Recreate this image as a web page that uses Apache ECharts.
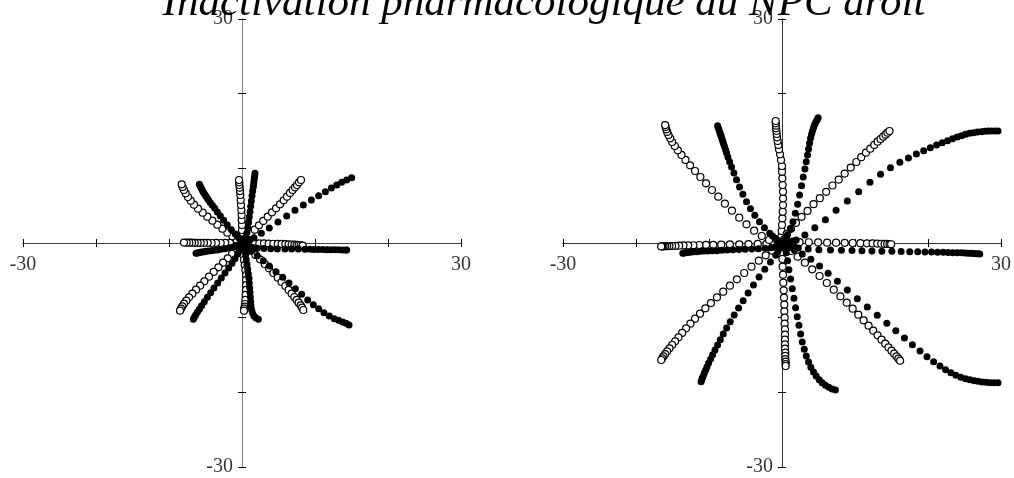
<!DOCTYPE html>
<html><head><meta charset="utf-8">
<script src="https://cdn.jsdelivr.net/npm/echarts@6/dist/echarts.min.js"></script>
<style>html,body{margin:0;padding:0;background:#fff}#c{width:1014px;height:478px}</style>
</head><body><div id="c"></div><script>
const titleText = 'Inactivation pharmacologique du NPC droit';
const axisMin = -30, axisMax = 30, axisStep = 10;
const xTickLabels = [-30, 30];
const yTickLabels = [30, -30];

// ---- Left panel, open circles (trajectories from centre to end) ----
const L_open_up = [[0,0.18],[0.05,0.54],[0.05,1.07],[0,1.74],[0,2.41],[-0.05,3.08],[-0.05,3.75],[-0.09,4.42],[-0.14,5.09],[-0.18,5.76],[-0.23,6.43],[-0.27,6.96],[-0.32,7.41],[-0.37,7.77],[-0.37,8.13],[-0.41,8.44]];
const L_open_upright = [[0.27,0.27],[0.68,0.71],[1.19,1.25],[1.74,1.79],[2.33,2.37],[2.92,2.95],[3.52,3.53],[4.11,4.11],[4.66,4.64],[5.21,5.18],[5.71,5.71],[6.16,6.21],[6.58,6.70],[6.94,7.10],[7.26,7.46],[7.53,7.77],[7.81,8.13],[8.08,8.44]];
const L_open_right = [[0.55,0],[1.10,0.02],[1.74,-0.02],[2.37,-0.04],[3.01,-0.05],[3.65,-0.08],[4.29,-0.1],[4.89,-0.12],[5.43,-0.13],[5.94,-0.16],[6.39,-0.18],[6.80,-0.2],[7.17,-0.21],[7.49,-0.25],[7.76,-0.27],[8.04,-0.3],[8.31,-0.35]];
const L_open_downright = [[0.64,-0.49],[1.23,-1.03],[1.83,-1.61],[2.47,-2.19],[3.11,-2.81],[3.70,-3.39],[4.29,-4.02],[4.89,-4.64],[5.43,-5.22],[5.94,-5.76],[6.39,-6.29],[6.80,-6.79],[7.17,-7.23],[7.49,-7.63],[7.76,-7.99],[8.04,-8.35],[8.22,-8.66],[8.40,-8.97]];
const L_open_down = [[0.05,-0.2],[0.09,-0.94],[0.18,-1.61],[0.27,-2.28],[0.37,-2.95],[0.46,-3.62],[0.55,-4.29],[0.55,-4.96],[0.55,-5.63],[0.55,-6.29],[0.5,-6.96],[0.46,-7.63],[0.41,-8.17],[0.37,-8.53],[0.32,-8.79],[0.27,-9.06]];
const L_open_downleft = [[-0.37,-0.40],[-0.82,-0.94],[-1.37,-1.47],[-1.96,-2.05],[-2.60,-2.63],[-3.24,-3.26],[-3.88,-3.88],[-4.52,-4.51],[-5.16,-5.13],[-5.75,-5.71],[-6.30,-6.25],[-6.80,-6.79],[-7.26,-7.28],[-7.63,-7.72],[-7.95,-8.13],[-8.17,-8.48],[-8.36,-8.79],[-8.49,-9.06]];
const L_open_left = [[-0.46,0],[-1.00,0.02],[-1.64,0],[-2.28,0.02],[-2.92,0],[-3.56,0.02],[-4.16,0],[-4.70,0.02],[-5.21,0.03],[-5.66,0.02],[-6.07,0.03],[-6.48,0.03],[-6.85,0.04],[-7.21,0.04],[-7.58,0.05],[-7.95,0.06]];
const L_open_upleft = [[-0.27,0.18],[-0.73,0.45],[-1.32,0.89],[-2.01,1.38],[-2.69,1.92],[-3.38,2.46],[-4.06,2.99],[-4.75,3.53],[-5.39,4.06],[-6.03,4.60],[-6.58,5.13],[-7.03,5.67],[-7.40,6.16],[-7.72,6.65],[-7.95,7.10],[-8.13,7.50],[-8.26,7.86]];

// ---- Left panel, filled circles ----
const L_fill_up = [[0.1,0.1],[0.18,0.22],[0.27,0.36],[0.38,0.58],[0.50,0.80],[0.68,1.38],[0.82,2.05],[0.91,2.77],[1.00,3.48],[1.10,4.20],[1.19,4.91],[1.28,5.63],[1.37,6.34],[1.46,6.96],[1.55,7.50],[1.60,7.90],[1.64,8.30],[1.69,8.66],[1.74,9.02],[1.78,9.33]];
const L_fill_upright = [[0.1,0.05],[0.2,0.1],[0.45,0.18],[0.73,0.27],[1.15,0.48],[1.64,0.71],[2.65,1.29],[3.74,2.01],[4.93,2.81],[6.12,3.62],[7.26,4.38],[8.40,5.09],[9.50,5.76],[10.50,6.34],[11.42,6.88],[12.24,7.37],[12.97,7.77],[13.65,8.13],[14.34,8.44],[15.02,8.75]];
const L_fill_right = [[0.15,-0.1],[0.3,-0.2],[0.5,-0.3],[0.85,-0.44],[1.2,-0.55],[1.62,-0.64],[2.10,-0.71],[3.01,-0.75],[3.93,-0.78],[4.84,-0.8],[5.89,-0.8],[6.80,-0.82],[7.72,-0.82],[8.63,-0.84],[9.32,-0.85],[9.86,-0.86],[10.46,-0.87],[11.05,-0.88],[11.60,-0.89],[12.15,-0.9],[12.69,-0.91],[13.24,-0.92],[13.79,-0.93],[14.25,-0.94],[14.34,-0.95]];
const L_fill_downright = [[0.1,-0.08],[0.2,-0.15],[0.4,-0.3],[0.64,-0.49],[0.95,-0.76],[1.32,-1.07],[2.10,-1.70],[2.92,-2.37],[3.74,-3.08],[4.66,-3.84],[5.57,-4.60],[6.44,-5.36],[7.31,-6.12],[8.17,-6.88],[9.00,-7.63],[9.77,-8.26],[10.50,-8.79],[11.23,-9.33],[11.96,-9.78],[12.65,-10.13],[13.24,-10.36],[13.79,-10.58],[14.25,-10.76],[14.66,-10.98]];
const L_fill_down = [[0.05,-0.05],[0.1,-0.1],[0.16,-0.24],[0.23,-0.40],[0.3,-0.68],[0.37,-0.98],[0.50,-1.61],[0.59,-2.23],[0.68,-2.86],[0.78,-3.48],[0.87,-4.11],[0.96,-4.73],[1.00,-5.36],[1.05,-5.98],[1.10,-6.61],[1.14,-7.23],[1.19,-7.86],[1.23,-8.44],[1.32,-8.97],[1.46,-9.42],[1.64,-9.78],[1.92,-10.04],[2.24,-10.22]];
const L_fill_downleft = [[-0.03,-0.12],[-0.09,-0.31],[-0.17,-0.56],[-0.27,-0.85],[-0.42,-1.15],[-0.59,-1.47],[-0.96,-2.10],[-1.37,-2.72],[-1.83,-3.35],[-2.33,-4.02],[-2.83,-4.69],[-3.33,-5.36],[-3.84,-6.03],[-4.29,-6.65],[-4.75,-7.28],[-5.16,-7.86],[-5.53,-8.39],[-5.84,-8.88],[-6.12,-9.29],[-6.35,-9.64],[-6.53,-9.96],[-6.67,-10.22]];
const L_fill_left = [[-0.06,-0.05],[-0.18,-0.13],[-0.36,-0.22],[-0.59,-0.31],[-0.85,-0.41],[-1.14,-0.49],[-1.74,-0.63],[-2.33,-0.76],[-2.88,-0.85],[-3.38,-0.94],[-3.84,-0.98],[-4.25,-1.03],[-4.61,-1.07],[-4.93,-1.12],[-5.21,-1.16],[-5.48,-1.21],[-5.71,-1.25],[-5.94,-1.29],[-6.12,-1.34],[-6.30,-1.38]];
const L_fill_upleft = [[-0.02,0.1],[-0.05,0.27],[-0.2,0.46],[-0.41,0.67],[-0.65,0.93],[-0.91,1.21],[-1.46,1.79],[-2.01,2.41],[-2.51,3.04],[-2.97,3.62],[-3.38,4.15],[-3.74,4.64],[-4.06,5.04],[-4.34,5.40],[-4.57,5.71],[-4.75,5.98],[-4.93,6.25],[-5.11,6.52],[-5.30,6.79],[-5.43,7.05],[-5.57,7.32],[-5.71,7.59],[-5.84,7.86]];

// ---- Right panel, open circles ----
const R_open_up = [[-0.05,0.3],[-0.09,0.85],[-0.05,1.61],[0,2.41],[0.05,3.30],[0.09,4.20],[0.14,5.09],[0.14,5.98],[0.14,6.88],[0.09,7.77],[0.05,8.66],[0,9.55],[0,10.31],[-0.14,11.12],[-0.27,11.88],[-0.41,12.54],[-0.50,13.13],[-0.59,13.66],[-0.68,14.15],[-0.73,14.60],[-0.77,15.0],[-0.82,15.36],[-0.82,15.71],[-0.86,16.03],[-0.86,16.34]];
const R_open_upright = [[0.3,0.5],[0.64,1.2],[1.23,1.9],[1.91,2.7],[2.68,3.5],[3.50,4.3],[4.32,5.2],[5.18,6.0],[6.05,6.85],[6.91,7.7],[7.77,8.5],[8.59,9.3],[9.41,10.1],[10.18,10.85],[10.86,11.5],[11.50,12.1],[12.09,12.63],[12.64,13.13],[13.09,13.57],[13.50,13.93],[13.86,14.24],[14.18,14.51],[14.45,14.78],[14.73,15.0]];
const R_open_right = [[0.5,0.1],[1.4,0.12],[2.41,0.11],[3.68,0.1],[4.95,0.08],[6.18,0.05],[7.41,0.04],[8.59,0.02],[9.68,0],[10.73,-0.02],[11.64,-0.05],[12.41,-0.06],[13.05,-0.08],[13.59,-0.1],[14.05,-0.12],[14.41,-0.13],[14.73,-0.15],[14.95,-0.17]];
const R_open_downright = [[0.4,-0.4],[1.23,-1.07],[2.14,-1.83],[3.14,-2.63],[4.14,-3.53],[5.14,-4.42],[6.14,-5.36],[7.09,-6.25],[8.0,-7.14],[8.86,-7.99],[9.68,-8.79],[10.45,-9.60],[11.18,-10.36],[11.86,-11.07],[12.5,-11.74],[13.09,-12.37],[13.64,-12.95],[14.14,-13.48],[14.59,-13.97],[15.0,-14.42],[15.36,-14.82],[15.68,-15.18],[15.95,-15.49],[16.18,-15.76]];
const R_open_down = [[0,-0.4],[0,-1.21],[0.05,-2.14],[0.09,-3.17],[0.14,-4.24],[0.18,-5.31],[0.23,-6.34],[0.27,-7.32],[0.32,-8.26],[0.32,-9.15],[0.36,-10.0],[0.36,-10.80],[0.41,-11.56],[0.41,-12.28],[0.41,-12.95],[0.41,-13.57],[0.41,-14.15],[0.45,-14.69],[0.45,-15.13],[0.45,-15.54],[0.5,-15.89],[0.5,-16.21],[0.5,-16.47]];
const R_open_downleft = [[-0.5,-0.4],[-1.36,-1.03],[-2.23,-1.65],[-3.18,-2.37],[-4.18,-3.17],[-5.18,-4.02],[-6.18,-4.87],[-7.14,-5.71],[-8.05,-6.52],[-8.91,-7.28],[-9.73,-8.04],[-10.5,-8.75],[-11.23,-9.46],[-11.91,-10.13],[-12.55,-10.80],[-13.14,-11.43],[-13.68,-12.05],[-14.18,-12.63],[-14.64,-13.17],[-15.05,-13.66],[-15.41,-14.11],[-15.73,-14.51],[-16.0,-14.87],[-16.23,-15.18],[-16.41,-15.45],[-16.55,-15.67]];
const R_open_left = [[-0.4,-0.05],[-1.09,-0.1],[-2.14,-0.12],[-3.32,-0.13],[-4.59,-0.16],[-5.86,-0.18],[-7.14,-0.19],[-8.32,-0.22],[-9.41,-0.24],[-10.41,-0.26],[-11.32,-0.27],[-12.14,-0.3],[-12.86,-0.32],[-13.5,-0.33],[-14.09,-0.36],[-14.59,-0.38],[-15.05,-0.4],[-15.41,-0.41],[-15.73,-0.42],[-16.0,-0.43],[-16.23,-0.44],[-16.41,-0.45],[-16.55,-0.46]];
const R_open_upleft = [[-0.6,0.1],[-1.77,0.40],[-2.77,0.94],[-3.82,1.65],[-4.86,2.50],[-5.86,3.39],[-6.86,4.33],[-7.82,5.27],[-8.73,6.21],[-9.59,7.10],[-10.41,7.99],[-11.18,8.84],[-11.91,9.64],[-12.59,10.40],[-13.23,11.12],[-13.77,11.79],[-14.27,12.41],[-14.68,12.99],[-15.05,13.53],[-15.32,14.02],[-15.55,14.46],[-15.73,14.87],[-15.86,15.22],[-15.95,15.54],[-16.0,15.80]];

// ---- Right panel, filled circles ----
const R_fill_up = [[0.05,0.05],[0.12,0.15],[0.2,0.26],[0.3,0.4],[0.5,0.7],[0.73,1.07],[1.14,1.88],[1.50,2.86],[1.82,3.97],[2.14,5.18],[2.41,6.43],[2.68,7.68],[2.91,8.84],[3.14,9.91],[3.32,10.89],[3.50,11.79],[3.64,12.59],[3.77,13.35],[3.91,14.02],[4.05,14.55],[4.18,15.04],[4.32,15.45],[4.45,15.80],[4.59,16.12],[4.73,16.38],[4.86,16.61],[4.95,16.79]];
const R_fill_upright = [[0.1,0.0],[0.3,0.04],[0.6,0.1],[1.0,0.2],[1.45,0.28],[1.95,0.40],[3.14,1.07],[4.5,2.05],[5.95,3.13],[7.41,4.38],[8.95,5.63],[10.5,6.88],[12.05,8.13],[13.5,9.20],[14.86,10.09],[16.14,10.80],[17.32,11.38],[18.41,11.92],[19.41,12.37],[20.32,12.77],[21.18,13.13],[21.95,13.44],[22.68,13.71],[23.36,13.97],[24.0,14.20],[24.59,14.38],[25.14,14.55],[25.68,14.69],[26.23,14.78],[26.77,14.87],[27.32,14.91],[27.77,14.96],[28.23,15.0],[28.68,15.0],[29.14,15.0],[29.59,15.0]];
const R_fill_right = [[0.1,-0.05],[0.22,-0.12],[0.4,-0.2],[0.75,-0.36],[1.18,-0.49],[1.65,-0.6],[2.23,-0.67],[3.59,-0.80],[5.05,-0.89],[6.64,-0.94],[8.14,-0.98],[9.59,-1.02],[10.95,-1.05],[12.32,-1.07],[13.68,-1.10],[15.05,-1.12],[16.32,-1.14],[17.5,-1.16],[18.59,-1.18],[19.59,-1.20],[20.5,-1.21],[21.32,-1.23],[22.09,-1.25],[22.77,-1.27],[23.41,-1.29],[24.0,-1.30],[24.55,-1.32],[25.05,-1.34],[25.5,-1.36],[25.91,-1.38],[26.27,-1.41],[26.59,-1.43],[26.86,-1.45],[27.09,-1.47]];
const R_fill_downright = [[0.12,-0.06],[0.3,-0.15],[0.6,-0.3],[1.1,-0.6],[1.68,-0.94],[2.77,-1.47],[3.95,-2.19],[5.14,-3.08],[6.32,-4.06],[7.59,-5.13],[8.95,-6.29],[10.32,-7.46],[11.68,-8.57],[13.05,-9.69],[14.36,-10.76],[15.59,-11.74],[16.77,-12.72],[17.86,-13.62],[18.91,-14.46],[19.86,-15.22],[20.77,-15.89],[21.64,-16.47],[22.41,-16.96],[23.14,-17.37],[23.82,-17.72],[24.5,-17.99],[25.14,-18.17],[25.73,-18.30],[26.32,-18.44],[26.86,-18.53],[27.41,-18.62],[27.95,-18.66],[28.5,-18.71],[29.05,-18.71],[29.59,-18.71]];
const R_fill_down = [[0.06,-0.08],[0.14,-0.2],[0.3,-0.4],[0.45,-0.82],[0.59,-1.29],[0.77,-2.37],[0.95,-3.57],[1.18,-4.82],[1.41,-6.12],[1.64,-7.41],[1.86,-8.66],[2.09,-9.87],[2.32,-11.03],[2.55,-12.19],[2.77,-13.26],[3.05,-14.24],[3.32,-15.13],[3.64,-15.94],[3.95,-16.65],[4.32,-17.28],[4.68,-17.81],[5.09,-18.30],[5.5,-18.71],[5.95,-19.06],[6.41,-19.33],[6.86,-19.55],[7.32,-19.69]];
const R_fill_downleft = [[-0.05,-0.1],[-0.15,-0.3],[-0.3,-0.6],[-0.55,-1.1],[-0.86,-1.65],[-1.59,-2.54],[-2.36,-3.53],[-3.14,-4.55],[-3.91,-5.63],[-4.64,-6.70],[-5.32,-7.72],[-5.95,-8.71],[-6.55,-9.64],[-7.09,-10.54],[-7.59,-11.38],[-8.05,-12.19],[-8.45,-12.95],[-8.82,-13.66],[-9.18,-14.33],[-9.5,-14.96],[-9.77,-15.54],[-10.05,-16.07],[-10.27,-16.56],[-10.45,-17.01],[-10.64,-17.41],[-10.77,-17.77],[-10.91,-18.08],[-11.0,-18.35],[-11.09,-18.57]];
const R_fill_left = [[-0.08,-0.06],[-0.18,-0.12],[-0.3,-0.2],[-0.5,-0.35],[-0.77,-0.49],[-1.1,-0.57],[-1.5,-0.63],[-2.32,-0.71],[-3.23,-0.76],[-4.14,-0.80],[-5.05,-0.85],[-5.91,-0.86],[-6.73,-0.89],[-7.5,-0.94],[-8.23,-0.98],[-8.91,-1.03],[-9.55,-1.04],[-10.14,-1.07],[-10.68,-1.08],[-11.18,-1.12],[-11.64,-1.16],[-12.05,-1.17],[-12.41,-1.21],[-12.73,-1.25],[-13.0,-1.26],[-13.23,-1.29],[-13.41,-1.34],[-13.59,-1.38]];
const R_fill_upleft = [[-0.1,0.05],[-0.25,0.12],[-0.4,0.2],[-0.65,0.4],[-0.95,0.63],[-1.3,0.95],[-1.68,1.29],[-2.41,2.05],[-3.09,2.86],[-3.73,3.71],[-4.32,4.60],[-4.86,5.54],[-5.36,6.52],[-5.82,7.5],[-6.23,8.48],[-6.59,9.38],[-6.91,10.18],[-7.18,10.89],[-7.41,11.52],[-7.59,12.05],[-7.73,12.5],[-7.86,12.90],[-8.0,13.26],[-8.09,13.57],[-8.18,13.84],[-8.27,14.11],[-8.36,14.38],[-8.45,14.64],[-8.55,14.91],[-8.64,15.18],[-8.73,15.45],[-8.82,15.71]];

const leftOpen = [L_open_up, L_open_upright, L_open_right, L_open_downright, L_open_down, L_open_downleft, L_open_left, L_open_upleft].flat();
const leftFilled = [L_fill_up, L_fill_upright, L_fill_right, L_fill_downright, L_fill_down, L_fill_downleft, L_fill_left, L_fill_upleft].flat();
const rightOpen = [R_open_up, R_open_upright, R_open_right, R_open_downright, R_open_down, R_open_downleft, R_open_left, R_open_upleft].flat();
const rightFilled = [R_fill_up, R_fill_upright, R_fill_right, R_fill_downright, R_fill_down, R_fill_downleft, R_fill_left, R_fill_upleft].flat();

const FONT = 'Liberation Serif';
function xAxes(g, lineColor) {
  const base = {gridIndex: g, type: 'value', min: axisMin, max: axisMax, interval: axisStep,
    splitLine: {show: false}, axisPointer: {show: false}, axisLabel: {show: false},
    axisLine: {onZero: true, lineStyle: {color: lineColor, width: 1}},
    axisTick: {show: true, inside: false, length: 4, lineStyle: {color: '#000'}}};
  return [Object.assign({}, base, {position: 'bottom'}), Object.assign({}, base, {position: 'top'})];
}
function yAxes(g, lineColor) {
  const base = {gridIndex: g, type: 'value', min: axisMin, max: axisMax, interval: axisStep,
    splitLine: {show: false}, axisPointer: {show: false}, axisLabel: {show: false},
    axisLine: {onZero: true, lineStyle: {color: lineColor, width: 1}},
    axisTick: {show: true, inside: false, length: 4, lineStyle: {color: '#000'}}};
  return [Object.assign({}, base, {position: 'left'}), Object.assign({}, base, {position: 'right'})];
}
const openStyle = {color: '#fff', borderColor: '#000', borderWidth: 1.2, opacity: 1};
const fillStyle = {color: '#000', borderColor: '#000', borderWidth: 0, opacity: 1};
const labelText = {fontFamily: FONT, fontSize: 20, color: '#000'};

function tickLabelSeries(axisIdx) {
  return [
    {type: 'scatter', xAxisIndex: axisIdx, yAxisIndex: axisIdx, symbolSize: 0, silent: true, z: 5,
     data: xTickLabels.map(v => [v, 0]),
     label: Object.assign({show: true, position: 'bottom', distance: 12, formatter: p => String(p.value[0])}, labelText)},
    {type: 'scatter', xAxisIndex: axisIdx, yAxisIndex: axisIdx, symbolSize: 0, silent: true, z: 5,
     data: yTickLabels.map(v => [0, v]),
     label: Object.assign({show: true, position: 'left', distance: 9, formatter: p => String(p.value[1])}, labelText)}
  ];
}

const chart = echarts.init(document.getElementById('c'), null, {renderer: 'canvas'});
chart.setOption({
  animation: false,
  backgroundColor: '#fff',
  grid: [
    {left: 23, top: 19, width: 438, height: 448, containLabel: false, outerBoundsMode: 'none'},
    {left: 563, top: 19, width: 438, height: 448, containLabel: false, outerBoundsMode: 'none'}
  ],
  xAxis: [...xAxes(0, '#444'), ...xAxes(1, '#333')],
  yAxis: [...yAxes(0, '#888'), ...yAxes(1, '#333')],
  graphic: [{type: 'text', x: 544, y: 4, silent: true,
    style: {text: titleText, font: 'italic 43px "Liberation Serif"', fill: '#000', align: 'center', verticalAlign: 'middle'}}],
  series: [
    {type: 'scatter', xAxisIndex: 0, yAxisIndex: 0, data: leftOpen, symbol: 'circle', symbolSize: 7, itemStyle: openStyle, silent: true, z: 2},
    {type: 'scatter', xAxisIndex: 0, yAxisIndex: 0, data: leftFilled, symbol: 'circle', symbolSize: 7, itemStyle: fillStyle, silent: true, z: 3},
    {type: 'scatter', xAxisIndex: 2, yAxisIndex: 2, data: rightOpen, symbol: 'circle', symbolSize: 7, itemStyle: openStyle, silent: true, z: 2},
    {type: 'scatter', xAxisIndex: 2, yAxisIndex: 2, data: rightFilled, symbol: 'circle', symbolSize: 7, itemStyle: fillStyle, silent: true, z: 3},
    ...tickLabelSeries(0),
    ...tickLabelSeries(2)
  ]
});
</script></body></html>
